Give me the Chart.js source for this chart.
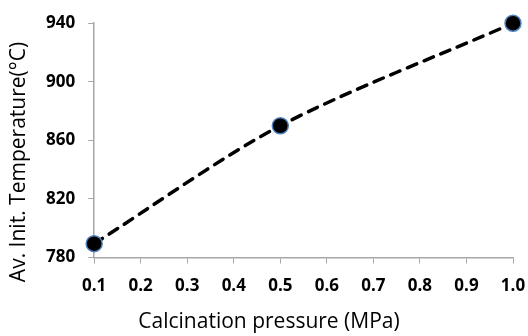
<!DOCTYPE html>
<html>
<head>
<meta charset="utf-8">
<script src="https://cdn.jsdelivr.net/npm/chart.js@4"></script>
<style>
  html, body { margin: 0; padding: 0; background: #fff; }
  #wrap { width: 528px; height: 336px; }
</style>
</head>
<body>
<div id="wrap"><canvas id="chart" width="528" height="336"></canvas></div>
<script>
// values
const pressure = [0.1, 0.5, 1.0]          // MPa
const initTemp = [789.5, 870, 940]         // °C
const xTicks = [0.1, 0.2, 0.3, 0.4, 0.5, 0.6, 0.7, 0.8, 0.9, 1.0]
const yTicks = [780, 820, 860, 900, 940]
const xTitle = 'Calcination pressure (MPa)'
const yTitle = 'Av. Init. Temperature(°C)'

const axisGray = '#a6a6a6'
const font = 'Open Sans'

// the titles in the picture sit centred on the whole image, not on the plot area
const axisTitles = {
  id: 'axisTitles',
  afterDraw(chart) {
    const c = chart.ctx
    c.save()
    c.fillStyle = '#000'
    c.font = '21px "' + font + '"'
    c.textAlign = 'center'
    c.textBaseline = 'middle'
    c.fillText(xTitle, 269, 322)
    c.translate(19, 162)
    c.rotate(-Math.PI / 2)
    c.fillText(yTitle, 0, 0)
    c.restore()
  }
}

const ctx = document.getElementById('chart').getContext('2d')
new Chart(ctx, {
  type: 'line',
  data: {
    datasets: [{
      data: pressure.map((p, i) => ({ x: p, y: initTemp[i] })),
      borderColor: '#000',
      borderWidth: 3.5,
      borderDash: [10, 8],
      borderCapStyle: 'round',
      tension: 0.3,
      fill: false,
      pointRadius: 8,
      pointBackgroundColor: '#000',
      pointBorderColor: '#4f81bd',
      pointBorderWidth: 1.5,
      clip: false
    }]
  },
  options: {
    responsive: false,
    animation: false,
    layout: { padding: { top: 22, right: 0, left: 33, bottom: 28 } },
    plugins: { legend: { display: false }, tooltip: { enabled: false } },
    scales: {
      x: {
        type: 'linear',
        min: 0.1,
        max: 1.0,
        afterBuildTicks: axis => { axis.ticks = xTicks.map(v => ({ value: v })) },
        // keep the plot reaching out to the "1.0" label like the picture does
        afterFit: axis => { axis.paddingRight = 15 },
        grid: { drawOnChartArea: false, tickLength: 6, color: axisGray },
        border: { color: axisGray, width: 1.5 },
        ticks: {
          color: '#000',
          padding: 12,
          maxRotation: 0,
          font: { family: font, size: 17, weight: 'bold' },
          callback: v => Number(v).toFixed(1)
        }
      },
      y: {
        min: 780,
        max: 940,
        afterBuildTicks: axis => { axis.ticks = yTicks.map(v => ({ value: v })) },
        grid: { drawOnChartArea: false, tickLength: 6, color: axisGray },
        border: { color: axisGray, width: 1.5 },
        ticks: {
          color: '#000',
          padding: 13,
          font: { family: font, size: 17, weight: 'bold' }
        }
      }
    }
  },
  plugins: [axisTitles]
})
</script>
</body>
</html>
